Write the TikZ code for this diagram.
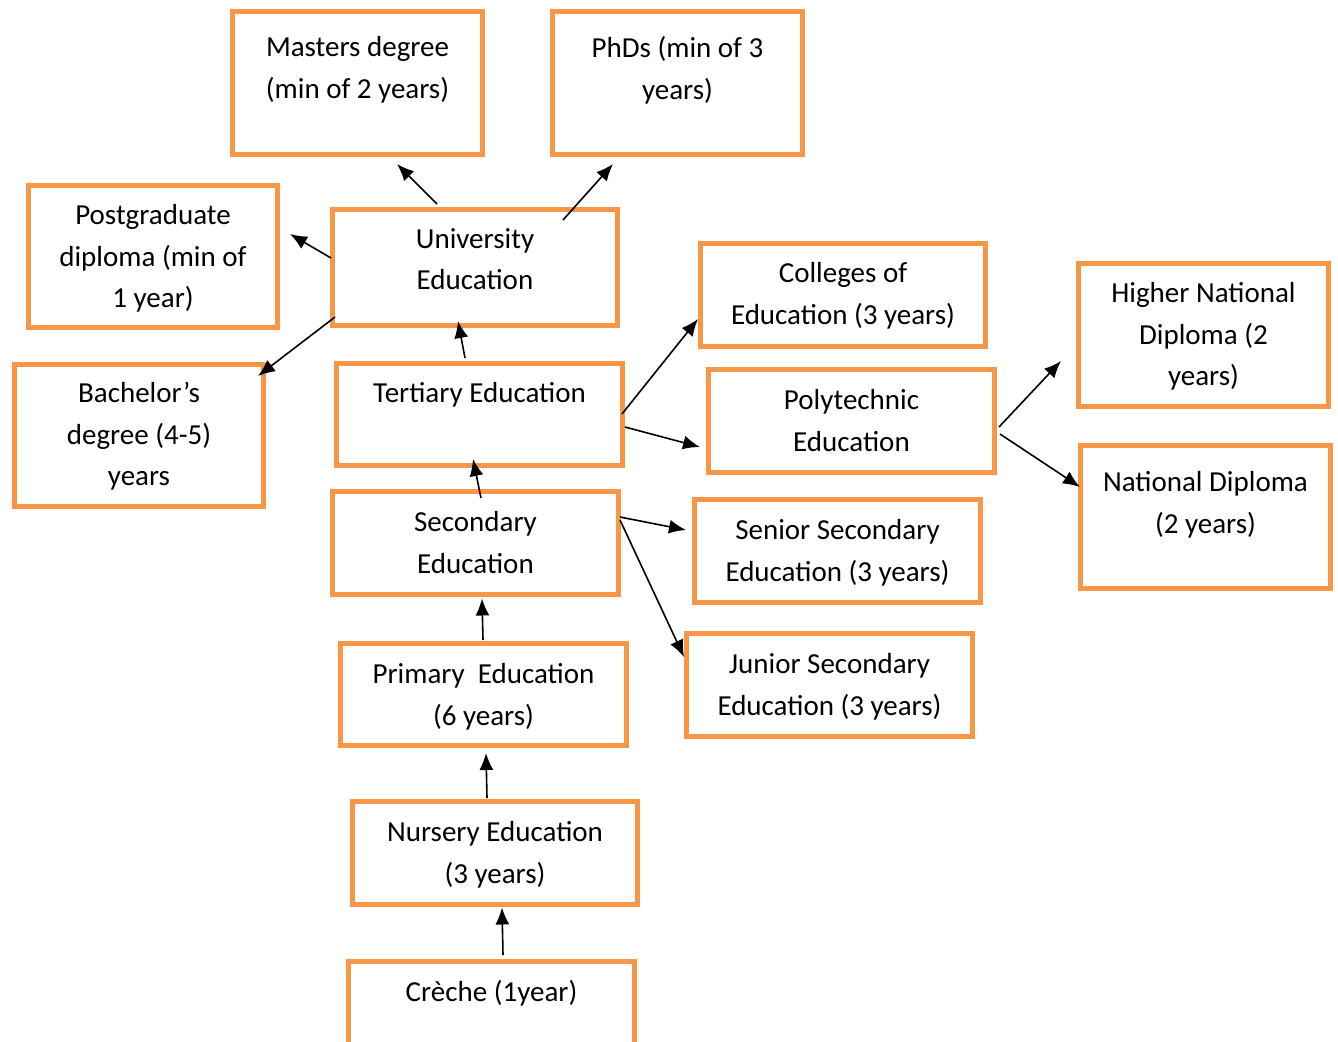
\documentclass[tikz,border=0pt]{standalone}
\usepackage{fontspec}
\setmainfont{Carlito}
\usetikzlibrary{arrows.meta}
\definecolor{boxorange}{HTML}{F79646}
\tikzset{
  box/.style={draw=boxorange, line width=2.3pt, fill=none, inner sep=0pt, outer sep=0pt},
  txt/.style={anchor=north, align=center, inner sep=0pt, font=\fontsize{14.5pt}{20.75pt}\selectfont, execute at begin node=\strut},
  arr/.style={draw=black, line width=0.8pt, -{Latex[length=8.5pt, width=7pt]}}
}
\newcommand\bxn[6]{% name, cx, cy, w, h
  \node[box, minimum width=#4*0.5pt, minimum height=#5*0.5pt] (#1) at (#2,#3) {};}
\begin{document}
\begin{tikzpicture}[x=0.5pt, y=-0.5pt]
\clip (0,0) rectangle (1338,1041);
% boxes
\bxn{mast}{357.5}{83}{250.5}{143.5}{}
\bxn{phd}{677.5}{83}{250.5}{143.5}{}
\bxn{pg}{153}{256.5}{249.5}{142.5}{}
\bxn{univ}{475}{267.5}{285.5}{116.5}{}
\bxn{bach}{139}{435.5}{249.5}{142.5}{}
\bxn{tert}{479.5}{414.5}{286.5}{102.5}{}
\bxn{coll}{843}{295}{285.5}{103.5}{}
\bxn{poly}{851.5}{421}{286.5}{103.5}{}
\bxn{hnd}{1203.5}{335}{250.5}{143.5}{}
\bxn{nd}{1205.5}{517}{250.5}{143.5}{}
\bxn{sec}{475.5}{543}{286.5}{103.5}{}
\bxn{ssec}{837.5}{551}{286.5}{103.5}{}
\bxn{jsec}{829.5}{685}{286.5}{103.5}{}
\bxn{prim}{483.5}{694.5}{286.5}{102.5}{}
\bxn{nurs}{495}{853}{285.5}{103.5}{}
\bxn{cre}{491.5}{1013}{286.5}{103.5}{}
% texts
\node[txt] (mast-t) at (357.5,36) {Masters degree\\(min of 2 years)};
\node[txt] (phd-t) at (677.5,36) {PhDs (min of 3\\years)};
\node[txt] (pg-t) at (153,204) {Postgraduate\\diploma (min of\\1 year)};
\node[txt] (univ-t) at (475,228) {University\\Education};
\node[txt] (bach-t) at (139,382) {Bachelor’s\\degree (4-5)\\years};
\node[txt] (tert-t) at (479.5,373) {Tertiary Education};
\node[txt] (coll-t) at (843,262) {Colleges of\\Education (3 years)};
\node[txt] (poly-t) at (851.5,389) {Polytechnic\\Education};
\node[txt] (hnd-t) at (1203.5,282) {Higher National\\Diploma (2\\years)};
\node[txt] (nd-t) at (1205.5,471) {National Diploma\\(2 years)};
\node[txt] (sec-t) at (475.5,511) {Secondary\\Education};
\node[txt] (ssec-t) at (837.5,519) {Senior Secondary\\Education (3 years)};
\node[txt] (jsec-t) at (829.5,653) {Junior Secondary\\Education (3 years)};
\node[txt] (prim-t) at (483.5,663) {Primary\ \ Education\\(6 years)};
\node[txt] (nurs-t) at (495,821) {Nursery Education\\(3 years)};
\node[txt] (cre-t) at (491.5,972) {Crèche (1year)};
% arrows
\draw[arr] ([shift={(-38,-63.5)}]univ.center) -- ([shift={(39.5,81)}]mast.center);
\draw[arr] ([shift={(88,-47.5)}]univ.center) -- ([shift={(-64.5,81)}]phd.center);
\draw[arr] ([shift={(-144,-9.5)}]univ.center) -- ([shift={(137,-22.5)}]pg.center);
\draw[arr] ([shift={(-140,49.5)}]univ.center) -- ([shift={(119,-59.5)}]bach.center);
\draw[arr] ([shift={(-14.5,-56.5)}]tert.center) -- ([shift={(-17,53.5)}]univ.center);
\draw[arr] ([shift={(142.5,-0.5)}]tert.center) -- ([shift={(-145,24)}]coll.center);
\draw[arr] ([shift={(145.5,12.5)}]tert.center) -- ([shift={(-151.5,26)}]poly.center);
\draw[arr] ([shift={(5.5,-45)}]sec.center) -- ([shift={(-6.5,44.5)}]tert.center);
\draw[arr] ([shift={(144.5,-26)}]sec.center) -- ([shift={(-151.5,-21)}]ssec.center);
\draw[arr] ([shift={(144.5,-23)}]sec.center) -- ([shift={(-145.5,-28)}]jsec.center);
\draw[arr] ([shift={(147.5,6)}]poly.center) -- ([shift={(-142.5,26)}]hnd.center);
\draw[arr] ([shift={(148.5,13)}]poly.center) -- ([shift={(-125.5,-30)}]nd.center);
\draw[arr] ([shift={(-0.5,-54.5)}]prim.center) -- ([shift={(6.5,55.5)}]sec.center);
\draw[arr] ([shift={(-8,-55)}]nurs.center) -- ([shift={(2.5,58.5)}]prim.center);
\draw[arr] ([shift={(11.5,-58)}]cre.center) -- ([shift={(7,54.5)}]nurs.center);
\end{tikzpicture}
\end{document}
